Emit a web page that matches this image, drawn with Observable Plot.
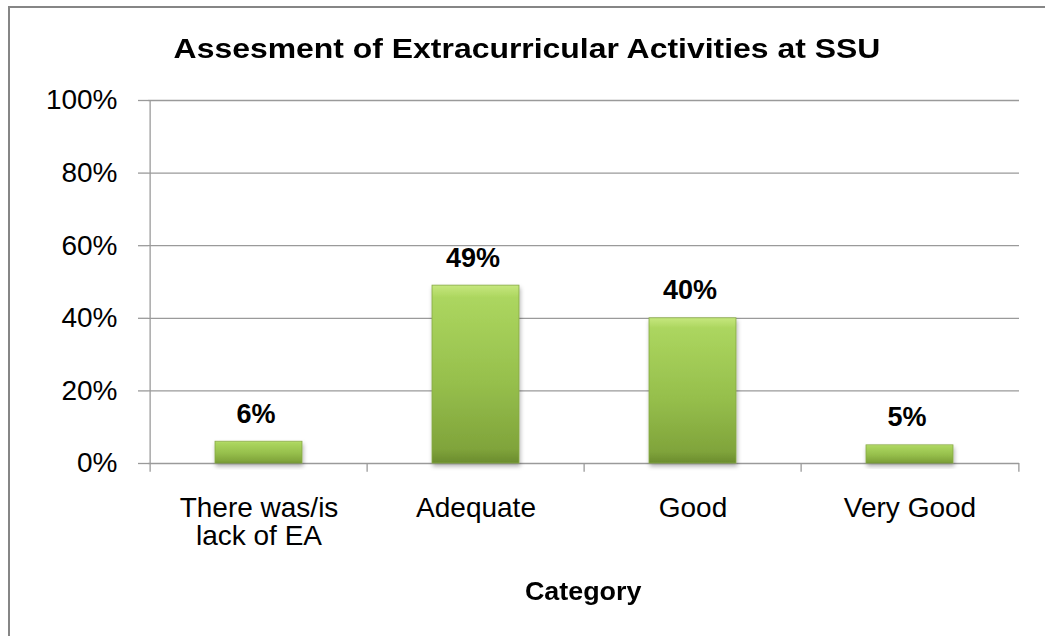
<!DOCTYPE html>
<html>
<head>
<meta charset="utf-8">
<script src="https://cdn.jsdelivr.net/npm/d3@7"></script>
<script src="https://cdn.jsdelivr.net/npm/@observablehq/plot@0.6"></script>
<style>
  html, body { margin: 0; padding: 0; background: #fff; overflow: hidden; width: 1045px; height: 636px; }
  body { position: relative; font-family: "Liberation Sans", Arial, sans-serif; }
  #frame { position: absolute; left: 8px; top: 6px; width: 1100px; height: 700px; border: 2px solid #868686; box-sizing: border-box; }
  #title { position: absolute; left: 0; top: 33px; width: 1054px; text-align: center; line-height: 1.15; color: #000; }
  #title span { display: inline-block; font-size: 28px; font-weight: bold; transform: scaleX(1.14); transform-origin: center; }
  #chart { position: absolute; left: 0; top: 80px; }
  #xlabel { position: absolute; left: 148px; width: 871px; top: 577px; text-align: center; line-height: 1.15; color: #000; }
  #xlabel span { display: inline-block; font-size: 25px; font-weight: bold; transform: scaleX(1.075); transform-origin: center; }
</style>
</head>
<body>
<div id="frame"></div>
<div id="title"><span>Assesment of Extracurricular Activities at SSU</span></div>
<div id="chart"></div>
<div id="xlabel"><span>Category</span></div>
<script>
const categories = ["There was/is\nlack of EA", "Adequate", "Good", "Very Good"];
const values = [6, 49, 40, 5];
const yTicks = [0, 20, 40, 60, 80, 100];

const data = categories.map((c, i) => ({category: c, value: values[i]}));

const W = 1045, H = 490, ML = 148, MR = 26, MT = 20, MB = 107;
const step = (W - ML - MR) / categories.length;
const grid = "#9a9a9a";

const chart = Plot.plot({
  width: W, height: H,
  marginLeft: ML, marginRight: MR, marginTop: MT, marginBottom: MB,
  style: {fontFamily: "'Liberation Sans', Arial, sans-serif", fontSize: "28px", color: "#000", background: "transparent", overflow: "visible"},
  x: {domain: categories, paddingInner: 0.6, paddingOuter: 0.3, axis: null},
  y: {domain: [0, 100], axis: null},
  marks: [
    Plot.ruleY(yTicks, {stroke: grid, strokeWidth: 1.3}),
    Plot.ruleX([categories[0]], {x: d => d, dx: -step / 2, y1: 0, y2: 100, stroke: grid, strokeWidth: 1.3}),
    Plot.ruleX(categories, {x: d => d, dx: -step / 2, y1: 0, y2: -2.4, stroke: grid, strokeWidth: 1.3}),
    Plot.ruleX([categories[categories.length - 1]], {x: d => d, dx: step / 2, y1: 0, y2: -2.4, stroke: grid, strokeWidth: 1.3}),
    Plot.axisY({ticks: yTicks, tickFormat: d => d + "%", tickSize: 10, tickPadding: 21, stroke: grid, strokeWidth: 1.3, fill: "#000", fontSize: 28, label: null}),
    Plot.axisX({tickSize: 0, tickPadding: 34, fill: "#000", fontSize: 28, label: null}),
    Plot.barY(data, {x: "category", y: "value", fill: "url(#barGrad)", stroke: "#86a844", strokeWidth: 0.8}),
    Plot.text(data, {x: "category", y: "value", text: d => d.value + "%", dx: -3, dy: -19, lineAnchor: "bottom", fontWeight: "bold", fontSize: 27, fill: "#000"})
  ]
});

document.getElementById("chart").appendChild(chart);

const svg = d3.select(chart);
const defs = svg.insert("defs", ":first-child");
const g = defs.append("linearGradient").attr("id", "barGrad").attr("x1", 0).attr("y1", 0).attr("x2", 0).attr("y2", 1);
g.append("stop").attr("offset", "0%").attr("stop-color", "#c6e77e");
g.append("stop").attr("offset", "7%").attr("stop-color", "#acd65f");
g.append("stop").attr("offset", "55%").attr("stop-color", "#96bf4c");
g.append("stop").attr("offset", "92%").attr("stop-color", "#80a43b");
g.append("stop").attr("offset", "100%").attr("stop-color", "#6b8c2e");
const f = defs.append("filter").attr("id", "shadow").attr("x", "-10%").attr("y", "-10%").attr("width", "130%").attr("height", "140%");
f.append("feDropShadow").attr("dx", 1).attr("dy", 3).attr("stdDeviation", 2).attr("flood-color", "#000").attr("flood-opacity", 0.3);
svg.selectAll("g[fill='url(#barGrad)'] rect").attr("filter", "url(#shadow)");
</script>
</body>
</html>
